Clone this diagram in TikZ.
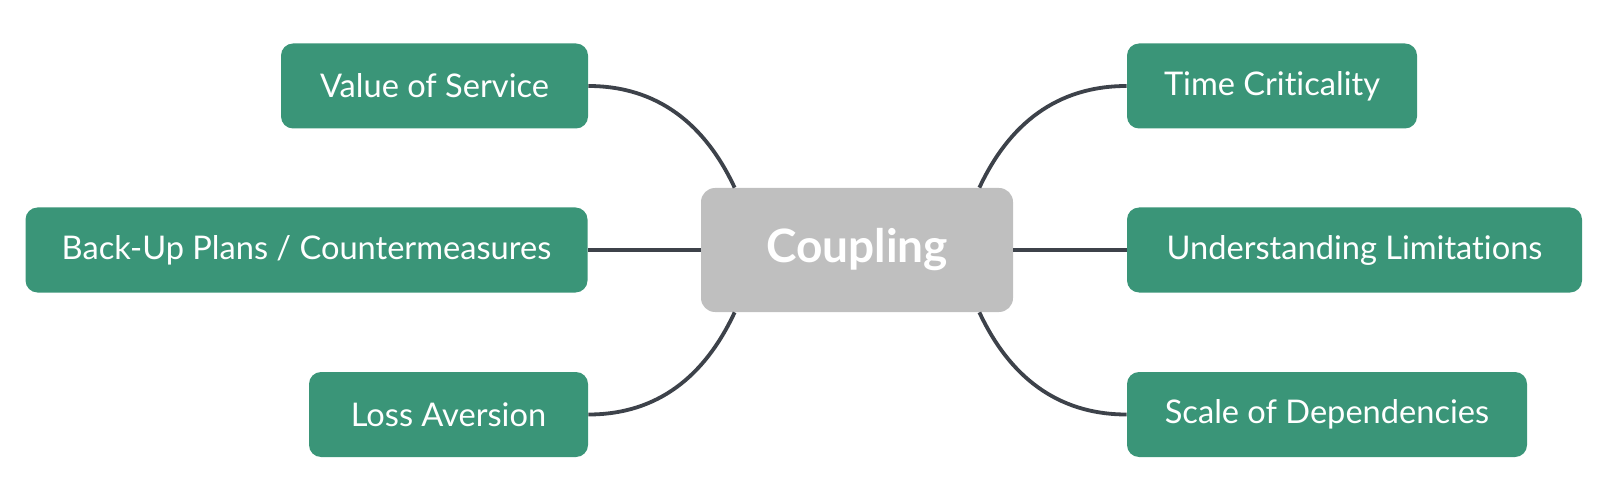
\documentclass[tikz,border=0pt]{standalone}
\usepackage{fontspec}
\setmainfont{Lato}[Ligatures=NoCommon]
\definecolor{leafgreen}{HTML}{3A9578}
\definecolor{hubgray}{HTML}{BFBFBF}
\definecolor{linkgray}{HTML}{3D424A}
\begin{document}
\begin{tikzpicture}[x=0.5pt, y=-0.5pt]
        \tikzstyle{leaf} = [fill=leafgreen, rounded corners=6pt, minimum height=42.5pt, inner sep=0pt, text=white, font=\fontsize{16.3}{19}\selectfont]
        \tikzstyle{hub} = [fill=hubgray, rounded corners=7pt, minimum width=156pt, minimum height=62pt, text=white, font=\fontsize{23}{26}\selectfont\bfseries]
        \tikzstyle{link} = [draw=linkgray, line width=1.9pt]
        \useasboundingbox (0,0) rectangle (1600,502);
        \node[hub] (coup) at (857, 250) {Coupling};
        \node[leaf, minimum width=153.5pt] (vos) at (434.5, 86) {Value of Service};
        \node[leaf, minimum width=281pt] (bup) at (306.5, 250) {Back-Up Plans / Countermeasures};
        \node[leaf, minimum width=139.5pt] (loss) at (448.5, 414.5) {Loss Aversion};
        \node[leaf, minimum width=145pt] (time) at (1272, 86) {Time Criticality};
        \node[leaf, minimum width=227.5pt] (undl) at (1354.5, 250) {Understanding Limitations};
        \node[leaf, minimum width=200pt] (scale) at (1327, 414.5) {Scale of Dependencies};
        \draw[link] ([xshift=17pt]coup.north west) to[out=115, in=0] (vos.east);
        \draw[link] (coup.west) -- (bup.east);
        \draw[link] ([xshift=17pt]coup.south west) to[out=-115, in=0] (loss.east);
        \draw[link] ([xshift=-17pt]coup.north east) to[out=65, in=180] (time.west);
        \draw[link] (coup.east) -- (undl.west);
        \draw[link] ([xshift=-17pt]coup.south east) to[out=-65, in=180] (scale.west);
      \end{tikzpicture}
\end{document}
